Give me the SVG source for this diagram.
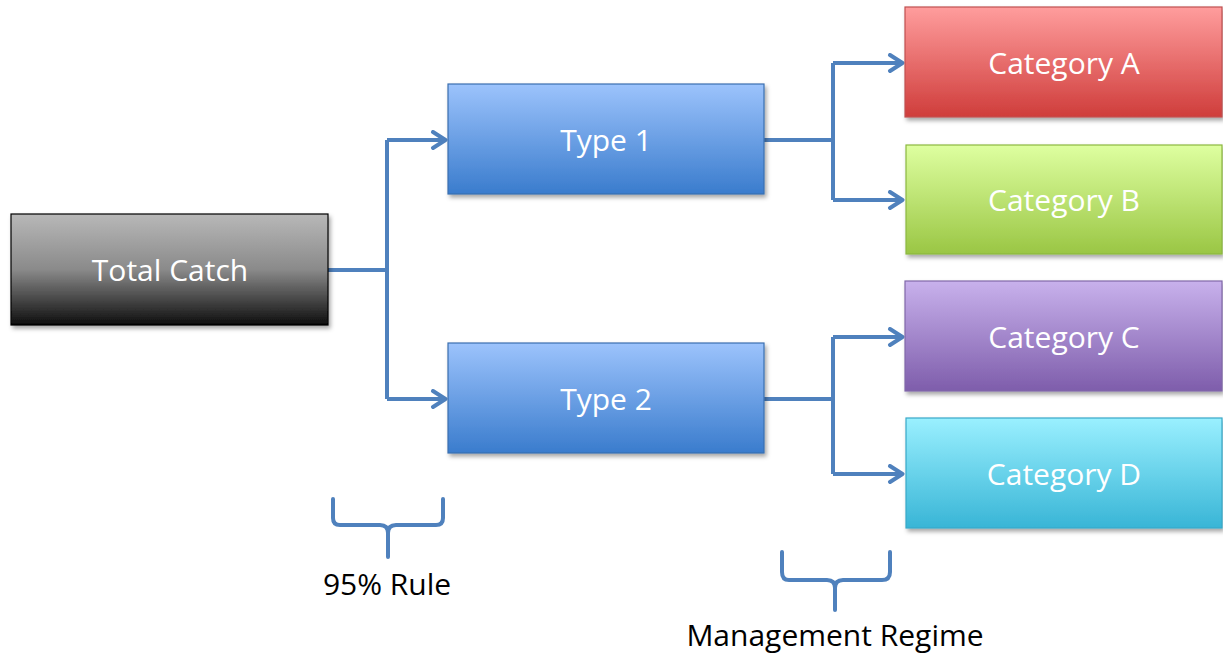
<svg xmlns="http://www.w3.org/2000/svg" width="1223" height="661" viewBox="0 0 1223 661">
<defs>
<linearGradient id="gGray" x1="0" y1="0" x2="0" y2="1"><stop offset="0" stop-color="#b8b8b8"/><stop offset="0.5" stop-color="#8a8a8a"/><stop offset="1" stop-color="#0d0d0d"/></linearGradient>
<linearGradient id="gBlue" x1="0" y1="0" x2="0" y2="1"><stop offset="0" stop-color="#9cc3fc"/><stop offset="1" stop-color="#3a7ccd"/></linearGradient>
<linearGradient id="gRed" x1="0" y1="0" x2="0" y2="1"><stop offset="0" stop-color="#ff9d9d"/><stop offset="1" stop-color="#cf3d3b"/></linearGradient>
<linearGradient id="gGreen" x1="0" y1="0" x2="0" y2="1"><stop offset="0" stop-color="#deffa0"/><stop offset="1" stop-color="#9ac644"/></linearGradient>
<linearGradient id="gPurple" x1="0" y1="0" x2="0" y2="1"><stop offset="0" stop-color="#c8b1ec"/><stop offset="1" stop-color="#7e5dab"/></linearGradient>
<linearGradient id="gCyan" x1="0" y1="0" x2="0" y2="1"><stop offset="0" stop-color="#9af0ff"/><stop offset="1" stop-color="#38b5d6"/></linearGradient>
<filter id="sh" x="-5%" y="-10%" width="115%" height="130%"><feDropShadow dx="2" dy="3" stdDeviation="2" flood-color="#000" flood-opacity="0.35"/></filter>
<marker id="arr" viewBox="0 0 18 20" refX="16" refY="10" markerWidth="18" markerHeight="20" markerUnits="userSpaceOnUse" orient="auto"><path d="M3,2 L15.5,10 L3,18" fill="none" stroke="#4f81bd" stroke-width="4" stroke-linecap="round" stroke-linejoin="round"/></marker>
</defs>
<style>
.box{filter:url(#sh);stroke-width:1.2}
.lbl{font-family:"Open Sans","Liberation Sans",sans-serif;font-size:30px;fill:#fff;text-anchor:middle}
.cap{font-family:"Open Sans","Liberation Sans",sans-serif;font-size:30px;fill:#000;text-anchor:middle}
.con{fill:none;stroke:#4f81bd;stroke-width:4;stroke-linejoin:miter}
.br{fill:none;stroke:#4f81bd;stroke-width:4;stroke-linejoin:round;stroke-linecap:round}
</style>
<g id="connectors">
<path class="con" d="M328,270 H387"/>
<path class="con" d="M387,140 V399"/>
<path class="con" d="M387,140 H446" marker-end="url(#arr)"/>
<path class="con" d="M387,399 H446" marker-end="url(#arr)"/>
<path class="con" d="M764,140 H833"/>
<path class="con" d="M833,63 V200"/>
<path class="con" d="M833,63 H903" marker-end="url(#arr)"/>
<path class="con" d="M833,200 H903" marker-end="url(#arr)"/>
<path class="con" d="M764,399 H833"/>
<path class="con" d="M833,337 V474"/>
<path class="con" d="M833,337 H903" marker-end="url(#arr)"/>
<path class="con" d="M833,474 H903" marker-end="url(#arr)"/>
</g>
<g id="total-catch"><rect class="box" x="11" y="214" width="317" height="111" fill="url(#gGray)" stroke="#000"/><text class="lbl" x="170" y="281">Total Catch</text></g>
<g id="type-1"><rect class="box" x="448" y="84" width="316" height="110" fill="url(#gBlue)" stroke="#3a6fb0"/><text class="lbl" x="606" y="151">Type 1</text></g>
<g id="type-2"><rect class="box" x="448" y="343" width="316" height="110" fill="url(#gBlue)" stroke="#3a6fb0"/><text class="lbl" x="606" y="410">Type 2</text></g>
<g id="category-a"><rect class="box" x="905" y="7" width="317" height="110" fill="url(#gRed)" stroke="#c05050"/><text class="lbl" x="1064" y="74">Category A</text></g>
<g id="category-b"><rect class="box" x="906" y="145" width="316" height="109" fill="url(#gGreen)" stroke="#8cb840"/><text class="lbl" x="1064" y="211">Category B</text></g>
<g id="category-c"><rect class="box" x="905" y="281" width="317" height="110" fill="url(#gPurple)" stroke="#8068a8"/><text class="lbl" x="1064" y="348">Category C</text></g>
<g id="category-d"><rect class="box" x="906" y="418" width="316" height="110" fill="url(#gCyan)" stroke="#38a8c8"/><text class="lbl" x="1064" y="485">Category D</text></g>
<g id="rule-brace"><path class="br" d="M333,499 V518 Q333,525 340,525 H380 Q388,525 388,533 V557 M388,533 Q388,525 396,525 H436 Q443,525 443,518 V499"/><text class="cap" x="387" y="595">95% Rule</text></g>
<g id="regime-brace"><path class="br" d="M782,552 V572 Q782,580 789,580 H827 Q835,580 835,588 V610 M835,588 Q835,580 843,580 H882 Q890,580 890,572 V552"/><text class="cap" x="835" y="646">Management Regime</text></g>
</svg>
